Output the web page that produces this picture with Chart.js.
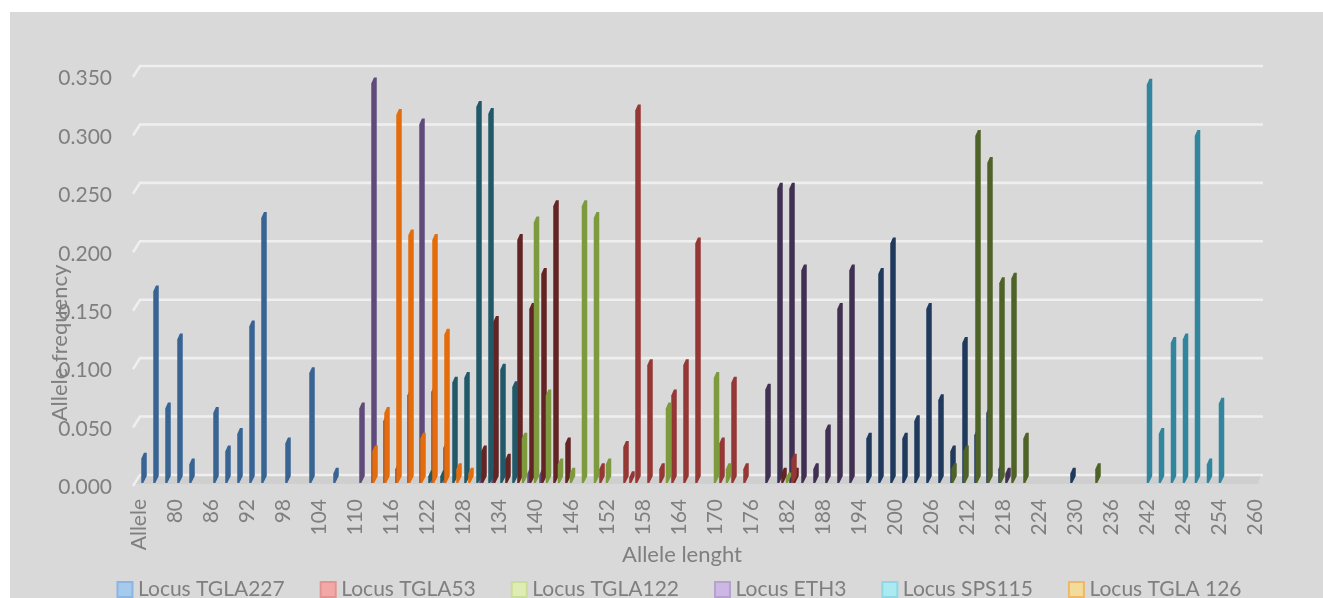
<!DOCTYPE html>
<html>
<head>
<meta charset="utf-8">
<title>Allele frequency</title>
<script src="https://cdn.jsdelivr.net/npm/chart.js@4"></script>
<style>
    html, body { margin: 0; background: #fff; overflow: hidden; }
    #wrap { width: 1323px; height: 598px; }
</style>
</head>
<body>
<div id="wrap"><canvas id="alleleChart"></canvas></div>
<script>
// Allele frequency per locus

// Alleles and frequencies of each locus
const tgla227Alleles = ['Allele', 76, 78, 80, 82, 86, 88, 90, 92, 94, 98, 102, 106];
const tgla227Values = [0.020, 0.163, 0.063, 0.122, 0.015, 0.059, 0.026, 0.041, 0.133, 0.226, 0.033, 0.093, 0.007];
const tgla53Alleles = [150, 154, 155, 156, 158, 160, 162, 164, 166, 170, 172, 174, 182];
const tgla53Values = [0.011, 0.030, 0.004, 0.318, 0.100, 0.011, 0.074, 0.100, 0.204, 0.033, 0.085, 0.011, 0.019];
const tgla122Alleles = [138, 140, 142, 144, 146, 148, 150, 152, 162, 170, 172, 182];
const tgla122Values = [0.037, 0.222, 0.074, 0.015, 0.007, 0.236, 0.226, 0.015, 0.063, 0.089, 0.011, 0.003];
const eth3Alleles = [110, 112, 114, 116, 118, 120, 122, 124, 130, 132, 138, 140];
const eth3Values = [0.063, 0.341, 0.052, 0.011, 0.074, 0.306, 0.077, 0.029, 0.003, 0.006, 0.007, 0.006];
const sps115Alleles = [242, 244, 246, 248, 250, 252, 254];
const sps115Values = [0.340, 0.041, 0.119, 0.122, 0.296, 0.015, 0.067];
const tgla126Alleles = [112, 114, 116, 118, 120, 122, 124, 126, 128];
const tgla126Values = [0.026, 0.059, 0.314, 0.211, 0.037, 0.207, 0.126, 0.011, 0.007];
// The legend row naming the next five loci is cut off in the picture
const darkBlueAlleles = [196, 198, 200, 202, 204, 206, 208, 210, 212, 214, 216, 218, 230];
const darkBlueValues = [0.037, 0.178, 0.204, 0.037, 0.052, 0.148, 0.070, 0.026, 0.119, 0.040, 0.059, 0.011, 0.007];
const darkRedAlleles = [130, 132, 134, 136, 138, 140, 142, 144, 180, 182];
const darkRedValues = [0.026, 0.137, 0.019, 0.207, 0.148, 0.178, 0.236, 0.033, 0.007, 0.007];
const darkOliveAlleles = [210, 212, 214, 216, 218, 220, 222, 234];
const darkOliveValues = [0.011, 0.026, 0.296, 0.273, 0.170, 0.174, 0.037, 0.011];
const darkPurpleAlleles = [178, 180, 182, 184, 186, 188, 190, 192, 218];
const darkPurpleValues = [0.079, 0.251, 0.251, 0.181, 0.011, 0.044, 0.148, 0.181, 0.007];
const darkTealAlleles = [122, 124, 126, 128, 130, 132, 134, 136];
const darkTealValues = [0.005, 0.005, 0.085, 0.089, 0.321, 0.315, 0.096, 0.081];

const legendNames = ['Locus TGLA227', 'Locus TGLA53', 'Locus TGLA122', 'Locus ETH3', 'Locus SPS115', 'Locus TGLA 126'];
const legendFills = ['#A6CAEC', '#F2A8A6', '#DFEDB4', '#CCB8E2', '#A9EBF1', '#F2DC9C'];
const legendBorders = ['#8DB4E2', '#E39490', '#C9DE96', '#B7A1CF', '#8DD8E4', '#F0B866'];

// Axis: one slot per allele, a label on every sixth
const alleleAxis = ['Allele'];
for (let a = 75; a <= 260; a++) alleleAxis.push(String(a));

const textColor = '#7F7F7F';
const fontFamily = 'Lato, sans-serif';

function makeSeries(label, alleles, values, color, shift, order) {
    return {
        label,
        shift,
        order,
        backgroundColor: color,
        data: alleles.map((a, i) => ({ x: String(a), y: values[i] }))
    };
}

const datasets = [
    makeSeries('Locus TGLA227', tgla227Alleles, tgla227Values, '#386494', 5, 10),
    makeSeries('Locus TGLA53', tgla53Alleles, tgla53Values, '#953735', 7, 4),
    makeSeries('Locus TGLA122', tgla122Alleles, tgla122Values, '#7D9A3F', 1.5, 3),
    makeSeries('Locus ETH3', eth3Alleles, eth3Values, '#604A7B', 7, 9),
    makeSeries('Locus SPS115', sps115Alleles, sps115Values, '#31859C', 2.5, 8),
    makeSeries('Locus TGLA 126', tgla126Alleles, tgla126Values, '#E46C0A', 8, 2),
    makeSeries('Locus 7', darkBlueAlleles, darkBlueValues, '#1F3A5C', -2, 6),
    makeSeries('Locus 8', darkRedAlleles, darkRedValues, '#632523', 9, 5),
    makeSeries('Locus 9', darkOliveAlleles, darkOliveValues, '#4F6228', -1, 1),
    makeSeries('Locus 10', darkPurpleAlleles, darkPurpleValues, '#403152', 5, 5.5),
    makeSeries('Locus 11', darkTealAlleles, darkTealValues, '#215968', 4, 7)
];

// Grey panel, slanted grid and floor of the 3D look
const wallsPlugin = {
    id: 'walls',
    beforeDraw(chart) {
        const { ctx } = chart;
        ctx.save();
        ctx.fillStyle = '#D9D9D9';
        ctx.fillRect(10, 12, chart.width - 10, chart.height - 12);
        ctx.restore();
    },
    beforeDatasetsDraw(chart) {
        const { ctx, chartArea } = chart;
        const y = chart.scales.y;
        const zero = y.getPixelForValue(0);
        ctx.save();
        ctx.fillStyle = '#CFCFCF';
        ctx.beginPath();
        ctx.moveTo(chartArea.left + 4, zero);
        ctx.lineTo(chartArea.right + 3, zero);
        ctx.lineTo(chartArea.right, zero + 9);
        ctx.lineTo(chartArea.left - 3, zero + 9);
        ctx.closePath();
        ctx.fill();
        ctx.strokeStyle = '#EFEFEF';
        ctx.lineWidth = 2.6;
        y.ticks.forEach(t => {
            const py = y.getPixelForValue(t.value);
            ctx.beginPath();
            ctx.moveTo(chartArea.left - 3, py + 11);
            ctx.lineTo(chartArea.left + 4, py);
            ctx.lineTo(chartArea.right + 5, py);
            ctx.stroke();
        });
        ctx.restore();
    },
    // Bars get a slanted top and foot instead of the plain rectangle
    beforeDatasetDraw(chart, args) {
        const { ctx } = chart;
        const ds = chart.data.datasets[args.index];
        ctx.save();
        ctx.fillStyle = ds.backgroundColor;
        args.meta.data.forEach(bar => {
            const left = bar.x + ds.shift - bar.width / 2;
            const right = left + bar.width;
            const top = bar.y + 1;
            ctx.beginPath();
            ctx.moveTo(left, top + 6);
            ctx.lineTo(left + 2.7, top);
            ctx.lineTo(right, top);
            ctx.lineTo(right, bar.base + 1);
            ctx.lineTo(left + 2, bar.base + 8);
            ctx.lineTo(left, bar.base + 8);
            ctx.closePath();
            ctx.fill();
        });
        ctx.restore();
        return false;
    },
    // Titles sit off-centre in the original, over the tick labels
    afterDraw(chart) {
        const { ctx } = chart;
        ctx.save();
        ctx.fillStyle = textColor;
        ctx.font = '22px ' + fontFamily;
        ctx.textAlign = 'center';
        ctx.textBaseline = 'middle';
        ctx.fillText('Allele lenght', 682, 555);
        ctx.translate(60, 343);
        ctx.rotate(-Math.PI / 2);
        ctx.fillText('Allele frequency', 0, 0);
        ctx.restore();
    },
    // Legend row sits at the very bottom, the next row falls off the page
    afterLayout(chart) {
        chart.legend.top = 579 - chart.legend.options.labels.padding;
        chart.legend.left = 60;
        chart.legend.right = 1304;
    }
};

new Chart(document.getElementById('alleleChart').getContext('2d'), {
    type: 'bar',
    data: { labels: alleleAxis, datasets },
    options: {
        responsive: true,
        maintainAspectRatio: false,
        animation: false,
        grouped: false,
        barThickness: 5.5,
        layout: { padding: { left: 0, right: 65, top: 66, bottom: -33 } },
        scales: {
            x: {
                type: 'category',
                grid: { display: false, drawTicks: false },
                border: { display: false },
                afterFit(scale) { scale.height = 84; },
                ticks: {
                    autoSkip: false,
                    minRotation: 90,
                    maxRotation: 90,
                    padding: 24,
                    color: textColor,
                    font: { family: fontFamily, size: 21 },
                    callback(value, index) {
                        return index % 6 === 0 ? alleleAxis[index] : '';
                    }
                }
            },
            y: {
                min: 0,
                max: 0.35,
                grid: { display: false, drawTicks: false },
                border: { display: false },
                afterFit(scale) { scale.width = 136; },
                ticks: {
                    stepSize: 0.05,
                    padding: 24,
                    labelOffset: 12.5,
                    color: textColor,
                    font: { family: fontFamily, size: 21 },
                    callback: value => value.toFixed(3)
                }
            }
        },
        plugins: {
            tooltip: { enabled: false },
            legend: {
                position: 'bottom',
                labels: {
                    usePointStyle: true,
                    pointStyle: 'rect',
                    boxWidth: 5,
                    boxHeight: 15,
                    padding: 41,
                    color: textColor,
                    font: { family: fontFamily, size: 21 },
                    generateLabels: () => legendNames.map((text, i) => ({
                        text,
                        fontColor: textColor,
                        fillStyle: legendFills[i],
                        strokeStyle: legendBorders[i],
                        lineWidth: 2,
                        pointStyle: 'rect',
                        datasetIndex: i,
                        hidden: false
                    }))
                }
            }
        }
    },
    plugins: [wallsPlugin]
});
</script>
</body>
</html>
